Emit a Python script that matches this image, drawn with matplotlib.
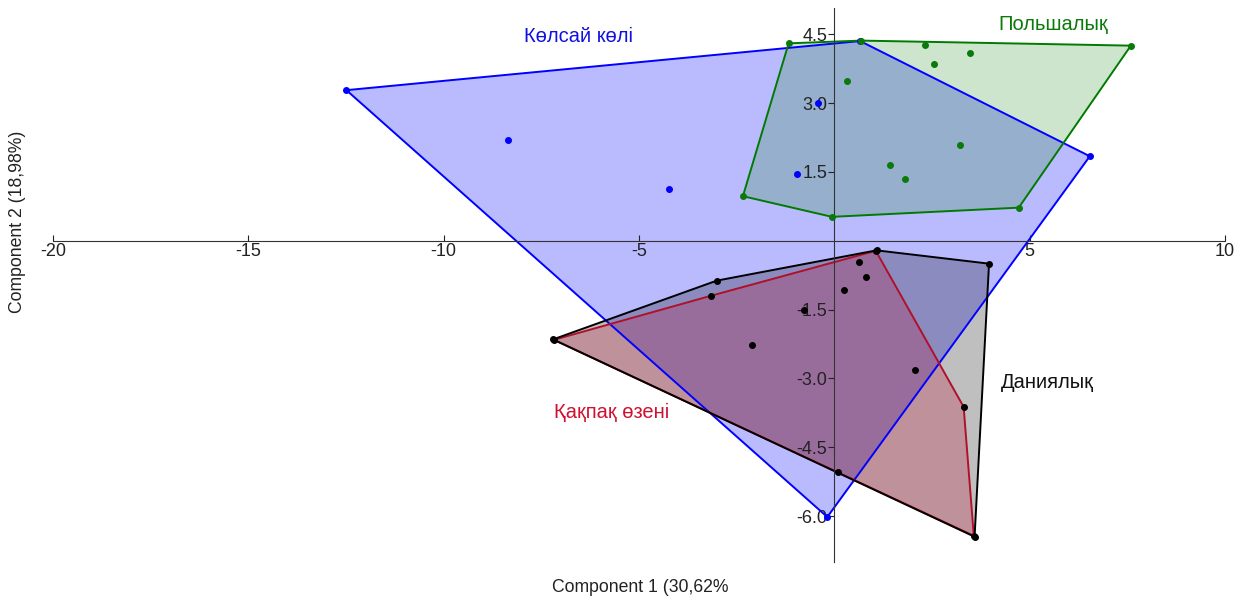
import matplotlib.pyplot as plt
import numpy as np
from matplotlib.patches import Polygon

plt.rcParams['font.family'] = ['Liberation Sans', 'DejaVu Sans']

# PCA scores per group (component 1, component 2)
kolsai_x = [-12.49, -8.35, -4.22, -0.96, -0.43, 0.66, 6.54, -0.18]
kolsai_y = [3.28, 2.19, 1.12, 1.46, 2.99, 4.35, 1.84, -6.02]

polsha_x = [-1.17, 0.68, 7.59, 2.33, 3.47, 2.55, 0.32, 3.21, 1.43, 1.81, 4.72, -0.06, -2.34]
polsha_y = [4.30, 4.36, 4.25, 4.27, 4.08, 3.85, 3.47, 2.08, 1.66, 1.35, 0.72, 0.52, 0.97]

dania_x = [-7.20, -3.01, 1.08, 3.96, 3.59, 0.09, 0.63, 0.81, 2.06]
dania_y = [-2.15, -0.87, -0.21, -0.50, -6.45, -5.05, -0.47, -0.80, -2.81]

kakpak_x = [-7.18, -3.16, 1.06, 3.31, 3.57, 0.24, -2.10, -0.77]
kakpak_y = [-2.16, -1.20, -0.22, -3.62, -6.43, -1.08, -2.28, -1.52]


def convex_hull(xs, ys):
    # monotone chain
    pts = sorted(set(zip(xs, ys)))

    def cross(o, a, b):
        return (a[0] - o[0]) * (b[1] - o[1]) - (a[1] - o[1]) * (b[0] - o[0])

    lower = []
    for p in pts:
        while len(lower) >= 2 and cross(lower[-2], lower[-1], p) <= 0:
            lower.pop()
        lower.append(p)
    upper = []
    for p in reversed(pts):
        while len(upper) >= 2 and cross(upper[-2], upper[-1], p) <= 0:
            upper.pop()
        upper.append(p)
    return np.array(lower[:-1] + upper[:-1])


fig = plt.figure(figsize=(12.4, 5.96), dpi=100)
ax = fig.add_axes([53 / 1240, 1 - 562 / 596, (1225 - 53) / 1240, (562 - 8) / 596])

# (x, y, edge colour, fill colour, fill alpha, dot colour)
kolsai = (kolsai_x, kolsai_y, '#0000ff', '#0000ff', 0.27, '#0000ff')
polsha = (polsha_x, polsha_y, '#007a00', '#1a8a1a', 0.22, '#0a7a0a')
dania = (dania_x, dania_y, '#000000', '#000000', 0.25, '#000000')
kakpak = (kakpak_x, kakpak_y, '#b0102a', '#c02040', 0.28, '#000000')

# fills first, then outlines (black outline over the red one)
for xs, ys, edge, fill, alpha, dot in [kolsai, polsha, dania, kakpak]:
    ax.add_patch(Polygon(convex_hull(xs, ys), closed=True, facecolor=fill, alpha=alpha,
                         edgecolor='none', zorder=1))
for xs, ys, edge, fill, alpha, dot in [kolsai, polsha, kakpak, dania]:
    ax.add_patch(Polygon(convex_hull(xs, ys), closed=True, facecolor='none', edgecolor=edge,
                         linewidth=1.4, zorder=2))
for xs, ys, edge, fill, alpha, dot in [kolsai, polsha, kakpak, dania]:
    ax.plot(xs, ys, 'o', color=dot, markersize=4, zorder=3, linestyle='none')

ax.text(-6.55, 4.45, 'Көлсай көлі', color='#1010e0', fontsize=14.5, ha='center', va='center')
ax.text(5.6, 4.7, 'Польшалық', color='#0a7a0a', fontsize=14.5, ha='center', va='center')
ax.text(5.45, -3.08, 'Даниялық', color='#111111', fontsize=14.5, ha='center', va='center')
ax.text(-5.7, -3.75, 'Қақпақ өзені', color='#d01030', fontsize=14.5, ha='center', va='center')

ax.set_xlim(-20, 10)
ax.set_ylim(-7.0, 5.07)

for s in ['top', 'right']:
    ax.spines[s].set_visible(False)
ax.spines['left'].set_position(('data', 0))
ax.spines['bottom'].set_position(('data', 0))
ax.spines['left'].set_color('#333333')
ax.spines['bottom'].set_color('#333333')

ax.set_xticks([-20, -15, -10, -5, 5, 10])
ax.set_xticklabels(['-20', '-15', '-10', '-5', '5', '10'])
ax.set_yticks([4.5, 3.0, 1.5, -1.5, -3.0, -4.5, -6.0])
ax.set_yticklabels(['4.5', '3.0', '1.5', '-1.5', '-3.0', '-4.5', '-6.0'])
ax.tick_params(axis='x', direction='in', length=4, pad=2, labelsize=13, colors='#222222')
ax.tick_params(axis='y', direction='out', length=4, pad=1, labelsize=13, colors='#222222')

fig.text(640 / 1240, 1 - 588 / 596, 'Component 1 (30,62%', ha='center', va='center', fontsize=12.7,
         color='#222222')
fig.text(18 / 1240, 1 - 222 / 596, 'Component 2 (18,98%)', ha='center', va='center', rotation=90,
         fontsize=12.7, color='#222222')

fig.savefig('out.png', dpi=100)
